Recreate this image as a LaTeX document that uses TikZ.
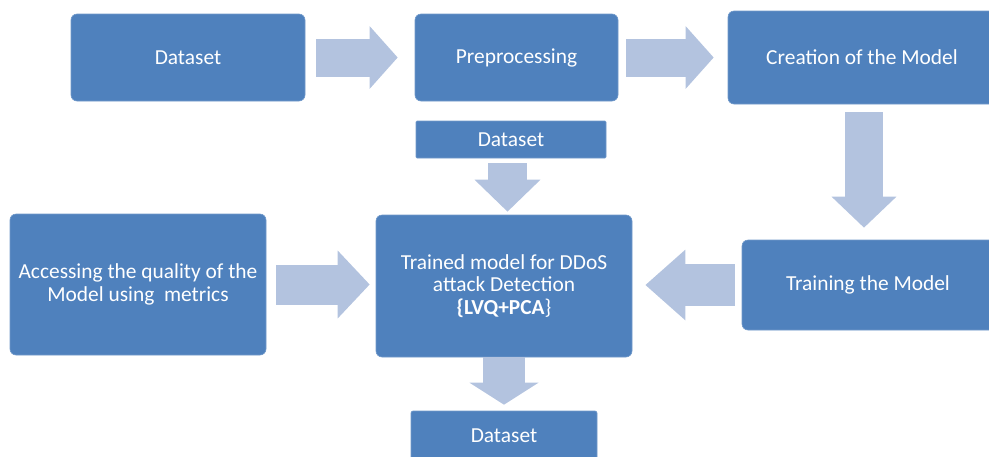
\documentclass[tikz,border=0pt]{standalone}
\usepackage{fontspec}
\setmainfont{Carlito}
\usetikzlibrary{arrows.meta,calc}

\definecolor{boxblue}{HTML}{4F81BD}
\definecolor{arrowblue}{HTML}{B3C3DF}

\begin{document}
\begin{tikzpicture}[x=1pt,y=-1pt]

        \useasboundingbox (0,0) rectangle (989,456);

        % Box and block arrow looks
        \tikzset{
            stage/.style={fill=boxblue, draw=boxblue!80!white, line width=0.6pt,
                rounded corners=6pt, text=white, align=center,
                font=\fontsize{21.4}{22.5}\selectfont, inner sep=0pt},
            fat/.style n args={3}{draw=arrowblue, line width=#1,
                -{Triangle[length=#2,width=#3]}}
        }

        % Boxes, placed at their centres
        \begin{scope}
            \node[stage, minimum width=234, minimum height=87] (D1) at (188,57.5) {Dataset};
            \node[stage, minimum width=203, minimum height=87] (P) at (516.5,57.5)
            {\raisebox{-2.5pt}{Preprocessing}};
            \node[stage, minimum width=272, minimum height=93] (C) at (864,57.5)
            {\hspace*{-4pt}Creation of the Model};
            \node[stage, minimum width=190, minimum height=37, rounded corners=1pt]
            (D2) at (511,139.5) {Dataset};
            \node[stage, minimum width=256, minimum height=142] (M) at (504,286)
            {Trained model for DDoS\\attack Detection\\\textbf{\{LVQ+PCA}\}};
            \node[stage, minimum width=186, minimum height=50, rounded corners=2pt]
            (D3) at (504,436) {\raisebox{1.5pt}{Dataset}};
            \node[stage, minimum width=260, minimum height=90] (T) at (872,285)
            {\hspace*{-8pt}\raisebox{-2pt}{Training the Model}};
            \node[stage, minimum width=256, minimum height=141] (A) at (138,284.5)
            {Accessing the quality of the\\Model using\ \ metrics};
        \end{scope}

        \begin{scope}
            \draw[fat={38pt}{28pt}{61pt}, shorten <=11, shorten >=17] (D1.east) -- (P.west);
            \draw[fat={38pt}{28pt}{61pt}, shorten <=8, shorten >=14] (P.east) -- (P.east -| C.west);
            \draw[fat={38pt}{31pt}{63pt}, shorten <=8, shorten >=12] (C.south) -- (C.south |- T.north);
            \draw[fat={42pt}{40pt}{68pt}, shorten <=7, shorten >=13] (T.west) -- (T.west -| M.east);
            \draw[fat={40pt}{32pt}{66pt}, shorten <=10, shorten >=6] (A.east) -- (A.east -| M.west);
            \draw[fat={39pt}{32pt}{64pt}, shorten <=5, shorten >=3]
                ($(D2.south)+(-3.5,0)$) -- ($(D2.south |- M.north)+(-3.5,0)$);
            \draw[fat={42pt}{22pt}{68pt}, shorten >=6] (M.south) -- (D3.north);
        \end{scope}

\end{tikzpicture}
\end{document}
